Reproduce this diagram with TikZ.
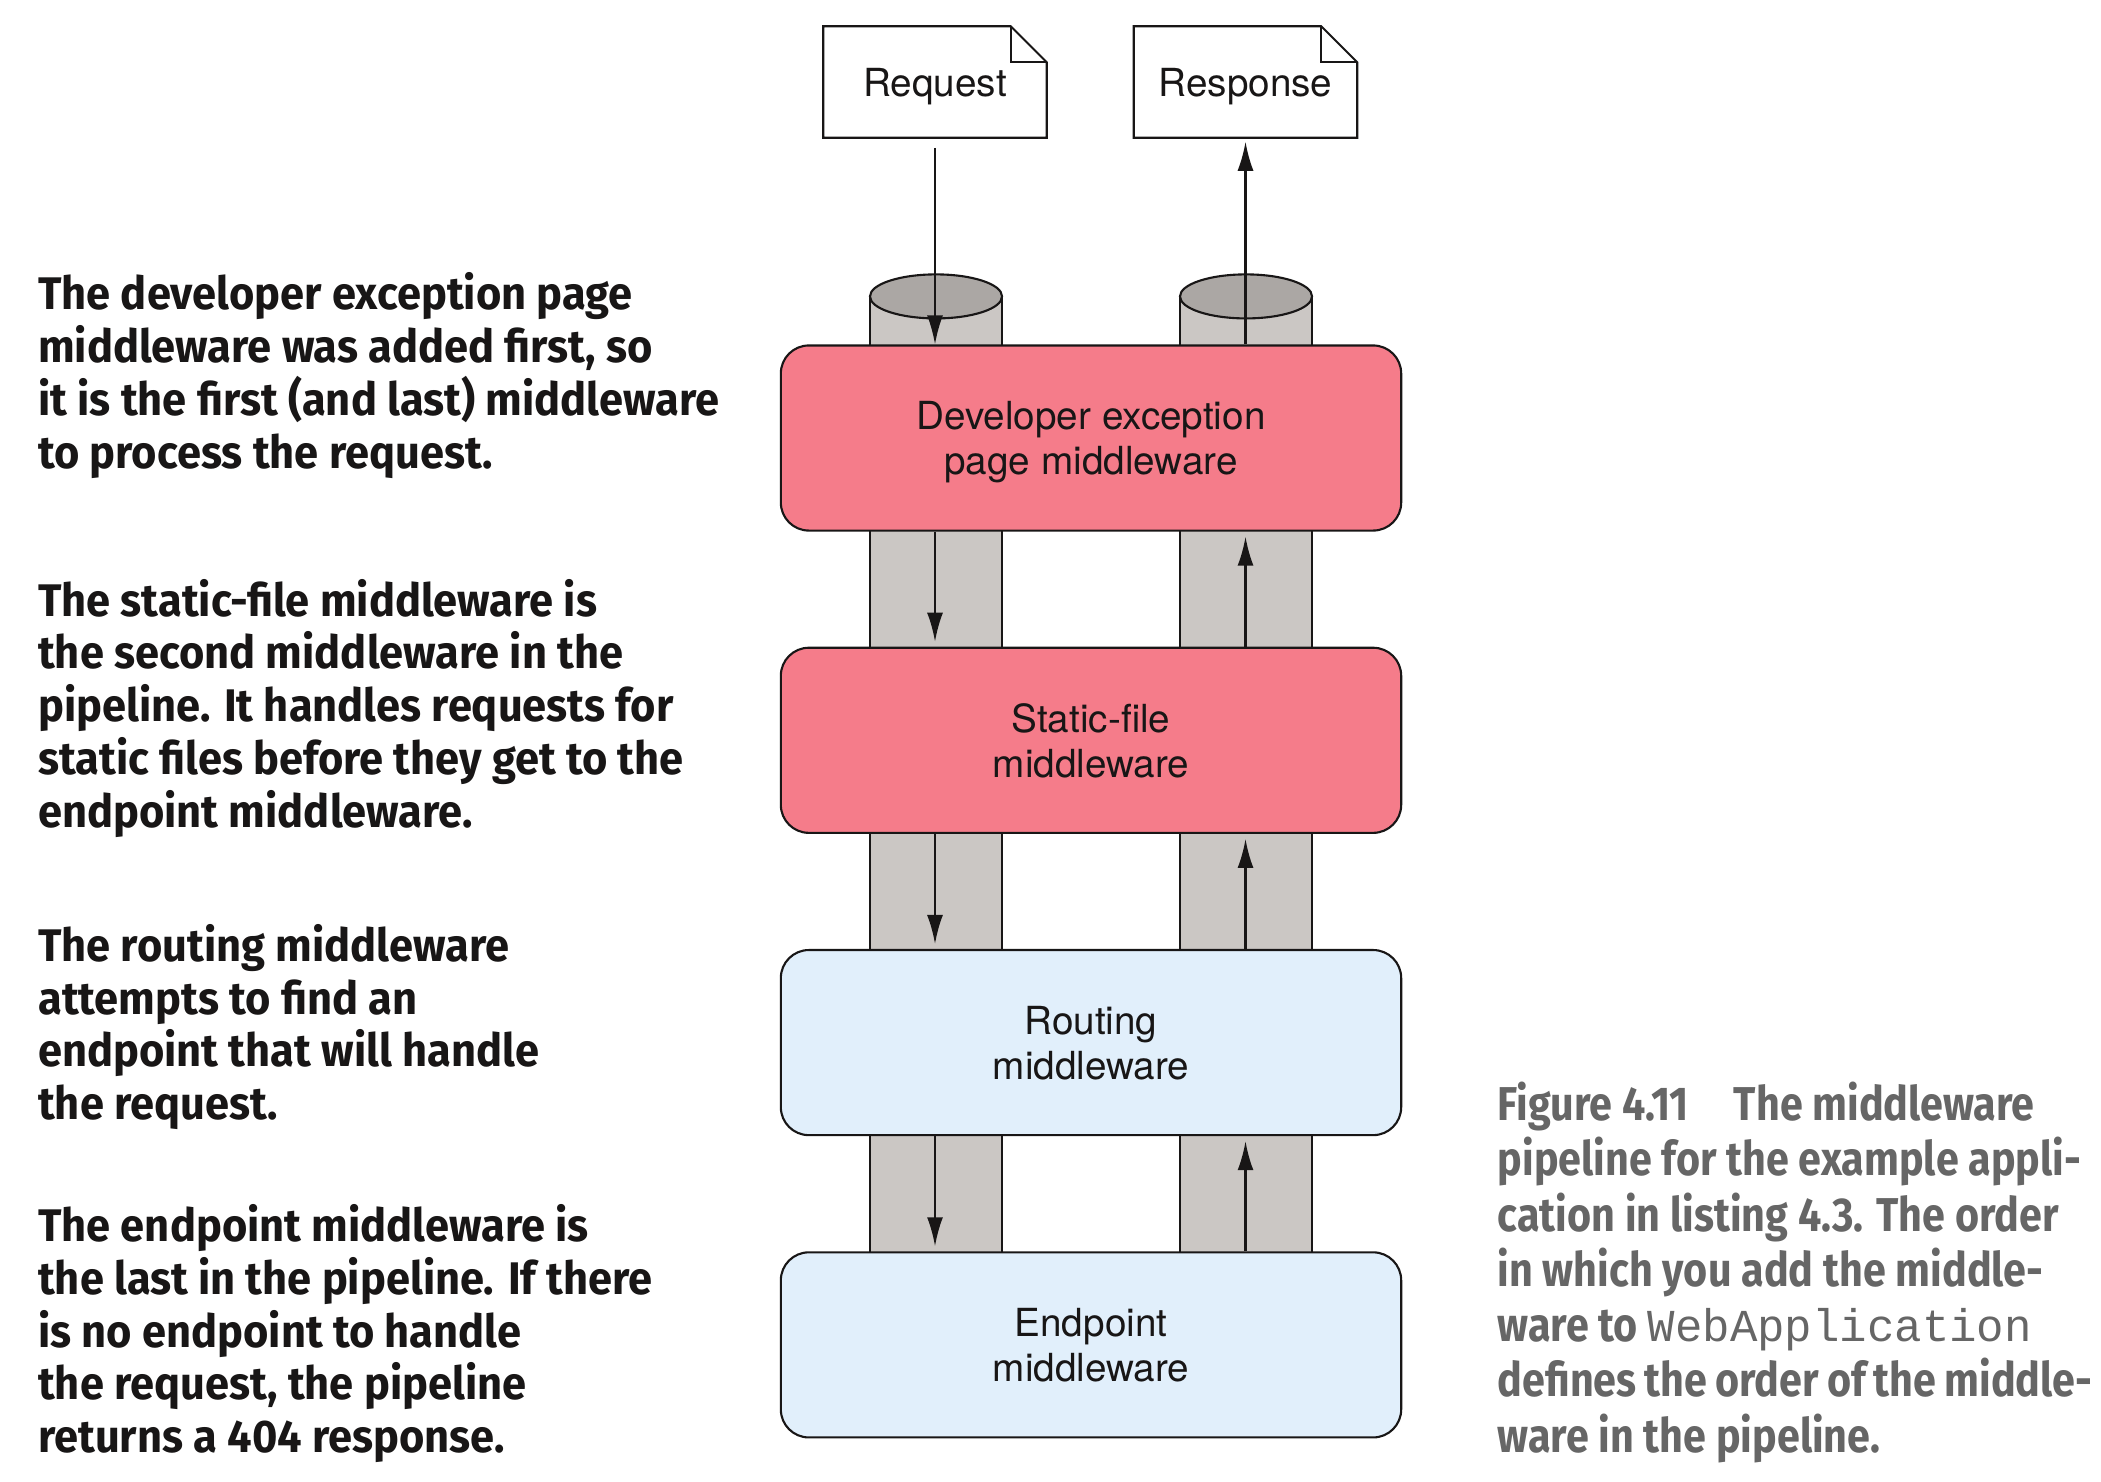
\documentclass[tikz,border=0pt]{standalone}
\usepackage{fontspec}
\setmainfont{TeX Gyre Heros}
\newfontfamily\notefont[FakeStretch=0.95]{Fira Sans}
\newfontfamily\capfont[FakeStretch=0.87]{Fira Sans}
\newfontfamily\codefont{Liberation Mono}
\usetikzlibrary{shapes,arrows.meta,positioning,backgrounds}
\definecolor{exred}{RGB}{245,124,138}
\definecolor{exblue}{RGB}{225,239,251}
\definecolor{pipegray}{RGB}{203,199,196}
\definecolor{pipetop}{RGB}{171,167,164}
\definecolor{capgray}{RGB}{102,102,102}
\definecolor{ink}{RGB}{24,22,22}
\tikzset{
  every node/.style={
    font=\fontsize{11}{12.8}\selectfont
  },
  middleware/.style={
    shape=rectangle,
    rounded corners=0.28cm,
    minimum width=6.2cm,
    minimum height=1.85cm,
    text depth=0pt,
    align=center,
    draw=ink,
    line width=0.6pt,
    text=ink
  },
  early/.style={
    middleware,
    fill=exred
  },
  late/.style={
    middleware,
    fill=exblue
  },
  message/.style={
    shape=rectangle,
    minimum width=2.22cm,
    minimum height=1.1cm,
    text depth=0pt,
    text=ink
  },
  pipe/.style={
    fill=pipegray,
    draw=ink,
    line width=0.6pt
  },
  flow/.style={
    -{Latex[length=0.29cm,width=0.16cm]},
    line width=0.65pt,
    draw=ink
  },
  note/.style={
    anchor=base west,
    align=left,
    inner sep=0pt,
    text=ink,
    font=\notefont\bfseries\fontsize{13}{15}\selectfont
  },
  caption/.style={
    anchor=base west,
    align=left,
    inner sep=0pt,
    text=capgray,
    font=\capfont\bfseries\fontsize{13.5}{15.7}\selectfont
  }
}

\begin{document}
\begin{tikzpicture}[x=0.01cm,y=-0.01cm]
    \useasboundingbox (0,0) rectangle (2101,1481);

    % pipeline
    \node [early] (dev) at (1091,438) {Developer exception\\page middleware};
    \node [early, below=1.15cm of dev] (static) {Static-file\\middleware};
    \node [late, below=1.15cm of static] (routing) {Routing\\middleware};
    \node [late, below=1.15cm of routing] (endpoint) {Endpoint\\middleware};

    \node [message] (request) at (935,82) {Request};
    \node [message] (response) at (1245.5,82) {Response};
    \foreach \d in {request,response} {
      \draw [line width=0.6pt, draw=ink] (\d.south west) -- (\d.south east)
        -- ([yshift=-0.36cm]\d.north east) -- ([xshift=-0.36cm]\d.north east)
        -- (\d.north west) -- cycle;
      \draw [line width=0.6pt, draw=ink] ([xshift=-0.36cm]\d.north east) |- ([yshift=-0.36cm]\d.north east);
    }

    \begin{scope}[on background layer]
      \foreach \s in {-155,155} {
        \draw [pipe] ([shift={(\s-66,-48)}]dev.north) rectangle ([shift={(\s+66,20)}]endpoint.north);
        \draw [pipe, fill=pipetop] ([shift={(\s,-48)}]dev.north) ellipse [x radius=0.66cm, y radius=0.22cm];
      }
    \end{scope}

    % requests go down, responses go up
    \draw [flow] ([yshift=-0.1cm]request.south) -- (request.south |- dev.north);
    \draw [flow] (response.south |- dev.north) -- ([yshift=-0.04cm]response.south);
    \foreach \a/\b in {dev/static,static/routing,routing/endpoint} {
      \draw [flow] (request.south |- \a.south) -- ([yshift=0.05cm]request.south |- \b.north);
      \draw [flow] (response.south |- \b.north) -- ([yshift=-0.05cm]response.south |- \a.south);
    }

    % notes (base = last line)
    \node [note] (devnote) at (37.5,468) {The developer exception page\\
      middleware was added first, so\\it is the first (and last) middleware\\
      to process the request.};
    \node [note] (staticnote) at (37.5,827) {The static-file middleware is\\
      the second middleware in the\\pipeline. It handles requests for\\
      static files before they get to the\\endpoint middleware.};
    \node [note] (routingnote) at (37.5,1119.5) {The routing middleware\\
      attempts to find an\\endpoint that will handle\\the request.};
    \node [note] (endpointnote) at (37.5,1452.5) {The endpoint middleware is\\
      the last in the pipeline. If there\\is no endpoint to handle\\
      the request, the pipeline\\returns a 404 response.};

    \node [caption] (figcaption) at (1497,1452) {Figure 4.11\hspace{0.45cm}The middleware\\
      pipeline for the example appli-\\cation in listing 4.3. The order\\
      in which you add the middle-\\ware to {\codefont\mdseries\fontsize{13}{15.7}\selectfont WebApplication}\\
      {\spaceskip=0.17em plus 0.05em defines the order of the middle-}\\ware in the pipeline.};
\end{tikzpicture}
\end{document}
